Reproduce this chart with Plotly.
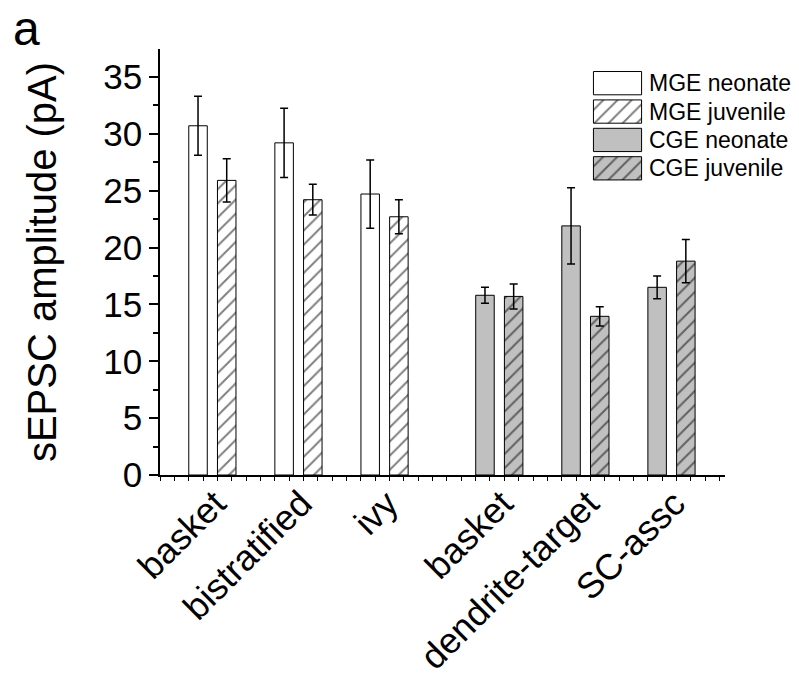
import plotly.graph_objects as go

# ---- data ----
categories = ["basket", "bistratified", "ivy", "basket", "dendrite-target", "SC-assc"]
origin = ["MGE", "MGE", "MGE", "CGE", "CGE", "CGE"]
neonate = [30.7, 29.2, 24.7, 15.8, 21.9, 16.5]
neonate_err = [2.6, 3.05, 3.0, 0.7, 3.35, 1.0]
juvenile = [25.9, 24.2, 22.7, 15.7, 13.95, 18.8]
juvenile_err = [1.9, 1.35, 1.5, 1.1, 0.85, 1.9]
series_names = ["MGE neonate", "MGE juvenile", "CGE neonate", "CGE juvenile"]

FONT = "Liberation Sans, Arial, sans-serif"
GRAY = "#C0C0C0"

# group positions: 3 units apart, extra gap between MGE and CGE groups
pos = [3 * i + (1 if origin[i] == "CGE" else 0) for i in range(len(categories))]
BW = 0.645
OFF = 0.5

def idx(o):
    return [i for i in range(len(categories)) if origin[i] == o]

styles = {
    "MGE neonate": dict(bg="white", shape=""),
    "MGE juvenile": dict(bg="white", shape="/"),
    "CGE neonate": dict(bg=GRAY, shape=""),
    "CGE juvenile": dict(bg=GRAY, shape="/"),
}

def marker(name):
    st = styles[name]
    return dict(
        color=st["bg"],
        line=dict(color="black", width=1),
        pattern=dict(shape=st["shape"], fgcolor="black", bgcolor=st["bg"],
                     size=10, solidity=0.2, fillmode="overlay"),
    )

fig = go.Figure()
for o in ["MGE", "CGE"]:
    ii = idx(o)
    for stage, vals, errs, sign in [("neonate", neonate, neonate_err, -1),
                                    ("juvenile", juvenile, juvenile_err, 1)]:
        name = f"{o} {stage}"
        fig.add_trace(go.Bar(
            x=[pos[i] + sign * OFF for i in ii],
            y=[vals[i] for i in ii],
            width=BW,
            name=name,
            showlegend=False,
            marker=marker(name),
            error_y=dict(type="data", array=[errs[i] for i in ii],
                         color="black", thickness=1.5, width=4),
        ))

# ---- legend drawn as an inset of swatches ----
for k, name in enumerate(series_names):
    fig.add_trace(go.Bar(
        x=[1], y=[k], base=[0], orientation="h", width=0.82,
        marker=marker(name), showlegend=False, hoverinfo="skip",
        xaxis="x2", yaxis="y2",
    ))
    fig.add_annotation(
        text=name, xref="x2 domain", yref="y2", x=1.07, y=k,
        xanchor="left", yanchor="middle", showarrow=False,
        font=dict(family=FONT, size=23, color="black"),
    )

x0 = pos[0] - 1.825
fig.update_layout(
    width=799, height=688,
    margin=dict(l=160, r=74, t=49, b=213, autoexpand=False),
    paper_bgcolor="white", plot_bgcolor="white",
    barmode="overlay",
    font=dict(family=FONT, color="black"),
    xaxis=dict(
        range=[x0, x0 + 19.69], automargin=False,
        tickmode="array", tickvals=pos, ticktext=categories,
        tickangle=-45, ticks="", tickfont=dict(size=36),
        ticklabelstandoff=-9, ticklabelshift=3,
        showline=True, linecolor="black", linewidth=2,
        showgrid=False, zeroline=False,
        minor=dict(ticks="outside", tick0=x0, dtick=0.5, ticklen=4,
                   tickcolor="black", tickwidth=1, showgrid=False),
    ),
    yaxis=dict(
        range=[0, 37.45], automargin=False,
        tickmode="linear", tick0=0, dtick=5,
        ticks="outside", ticklen=9, tickwidth=1.5, tickcolor="black",
        tickfont=dict(size=35),
        showline=True, linecolor="black", linewidth=1.5,
        showgrid=False, zeroline=False,
        minor=dict(ticks="outside", dtick=2.5, ticklen=5, tickwidth=1.5,
                   tickcolor="black", showgrid=False),
        title=dict(text="sEPSC amplitude (pA)", font=dict(size=40), standoff=34),
    ),
    xaxis2=dict(domain=[0.7646, 0.8549], range=[-0.03, 1.03], anchor="y2",
                visible=False, fixedrange=True),
    yaxis2=dict(domain=[0.6866, 0.9531], range=[3.5, -0.5], anchor="x2",
                visible=False, fixedrange=True),
    annotations=list(fig.layout.annotations) + [
        dict(text="a", xref="paper", yref="paper", x=-0.2354, y=1.1150,
             xanchor="center", yanchor="top", showarrow=False,
             font=dict(family=FONT, size=48, color="black")),
    ],
)

fig.write_html(
    "out.html",
    config={"displayModeBar": False},
    post_script="document.body.style.margin='0';document.body.style.overflow='hidden';",
)
